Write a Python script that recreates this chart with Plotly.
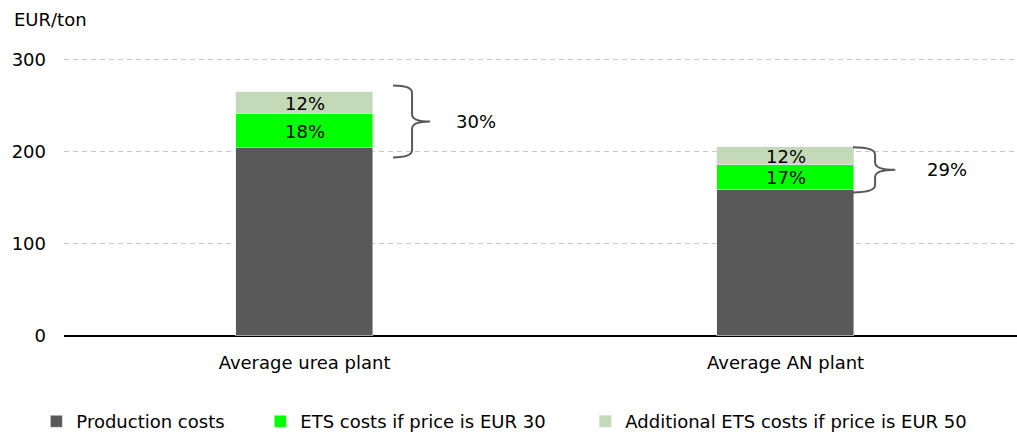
import plotly.graph_objects as go

categories = ["Average urea plant", "Average AN plant"]
production = [204, 159]
ets30 = [37, 27]
additional = [24, 19]
ets_pct = ["18%", "17%"]
add_pct = ["12%", "12%"]
total_pct = ["30%", "29%"]
series_names = ["Production costs", "ETS costs if price is EUR 30", "Additional ETS costs if price is EUR 50"]

FONT = "DejaVu Sans"
FS = 18
C_PROD = "#595959"
C_ETS = "#00ff00"
C_ADD = "#c4d9b8"

xs = list(range(len(categories)))
fig = go.Figure()
fig.add_bar(x=xs, y=production, name=series_names[0], marker_color=C_PROD, width=0.285, legend="legend")
fig.add_bar(x=xs, y=ets30, name=series_names[1], marker_color=C_ETS, width=0.285, legend="legend2")
fig.add_bar(x=xs, y=additional, name=series_names[2], marker_color=C_ADD, width=0.285, legend="legend3")

annotations = []
for i in xs:
    annotations.append(dict(x=i, y=production[i] + ets30[i] / 2, text=ets_pct[i], showarrow=False,
                            xref="x", yref="y", font=dict(size=FS, color="black", family=FONT)))
    annotations.append(dict(x=i, y=production[i] + ets30[i] + additional[i] / 2, text=add_pct[i], showarrow=False,
                            xref="x", yref="y", font=dict(size=FS, color="black", family=FONT)))

# brace geometry (offsets from bar centre, in x units; extension in y units)
brace_geo = [
    dict(x0=0.184, xv=0.2235, xt=0.261, ext_top=7, ext_bot=10, lab=0.310),
    dict(x0=0.140, xv=0.186, xt=0.228, ext_top=0, ext_bot=3, lab=0.290),
]
shapes = []
for i in xs:
    g = brace_geo[i]
    ybot = production[i] - g["ext_bot"]
    ytop = production[i] + ets30[i] + additional[i] + g["ext_top"]
    ymid = (ybot + ytop) / 2
    x0, xv, xt = i + g["x0"], i + g["xv"], i + g["xt"]
    d = 8
    path = (f"M {x0},{ytop} Q {xv},{ytop} {xv},{ytop-d} L {xv},{ymid+d} "
            f"Q {xv},{ymid} {xt},{ymid} Q {xv},{ymid} {xv},{ymid-d} "
            f"L {xv},{ybot+d} Q {xv},{ybot} {x0},{ybot}")
    shapes.append(dict(type="path", path=path, xref="x", yref="y",
                       line=dict(color="#595959", width=2)))
    annotations.append(dict(x=i + g["lab"], y=ymid, text=total_pct[i], showarrow=False, xref="x", yref="y",
                            xanchor="left", font=dict(size=FS, color="black", family=FONT)))

annotations.append(dict(x=-0.0545, y=1.138, xref="paper", yref="paper", text="EUR/ton", showarrow=False,
                        xanchor="left", yanchor="middle", font=dict(size=FS, color="black", family=FONT)))

leg_common = dict(orientation="h", y=-0.308, xanchor="left", yanchor="middle",
                  font=dict(size=FS, family=FONT), bgcolor="rgba(0,0,0,0)", itemwidth=30)
fig.update_layout(
    barmode="stack",
    width=1017, height=435,
    margin=dict(l=64, r=0, t=58, b=99, autoexpand=False),
    plot_bgcolor="white", paper_bgcolor="white",
    font=dict(family=FONT, size=FS, color="black"),
    showlegend=True,
    legend=dict(x=-0.029, **leg_common),
    legend2=dict(x=0.206, **leg_common),
    legend3=dict(x=0.547, **leg_common),
    annotations=annotations,
    shapes=shapes,
    bargap=0,
)
fig.update_xaxes(range=[-0.5, 1.481], tickvals=xs, ticktext=categories, showgrid=False,
                 showline=False, zeroline=False, ticks="", tickfont=dict(size=FS, family=FONT),
                 ticklabelstandoff=14)
fig.update_yaxes(range=[0, 302], tickvals=[0, 100, 200, 300], showgrid=True, gridcolor="#c8c8c8",
                 griddash="5px,4px", gridwidth=1, zeroline=True, zerolinecolor="black", zerolinewidth=1.5,
                 ticks="", tickfont=dict(size=FS, family=FONT), ticklabelstandoff=17)

fig.write_html("out.html", config={"displayModeBar": False})

# remove the default 8px body margin so the figure sits at the page origin
with open("out.html", "r", encoding="utf-8") as f:
    html = f.read()
html = html.replace("<head>", "<head><style>html,body{margin:0;padding:0;}</style>", 1)
with open("out.html", "w", encoding="utf-8") as f:
    f.write(html)
